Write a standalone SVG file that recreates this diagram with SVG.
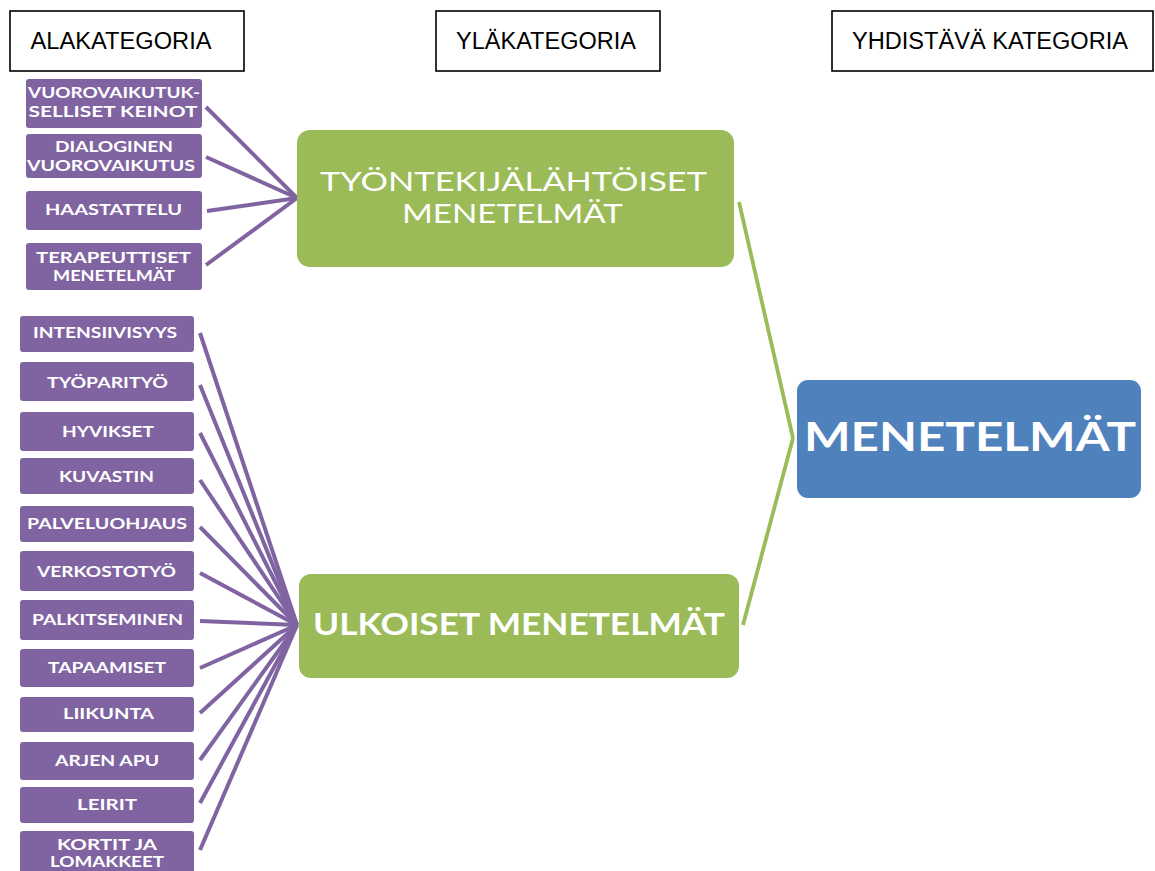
<svg xmlns="http://www.w3.org/2000/svg" width="1155" height="871" viewBox="0 0 1155 871">
<style>
.hdr rect{fill:#fff;stroke:#000;stroke-width:1.6}
.hdr text{font-family:"Liberation Sans",Arial,sans-serif;font-size:23px;fill:#000;text-anchor:middle}
.sub rect{fill:#8064A2}
.sub text{font-family:Lato,"Liberation Sans",sans-serif;font-weight:bold;font-size:15.5px;fill:#fff;text-anchor:middle}
.mid rect{fill:#9BBB59}
.mid text{font-family:Lato,"Liberation Sans",sans-serif;font-size:31px;fill:#fff;text-anchor:middle}
.mid text.two{font-size:26.5px}
.top rect{fill:#4F81BD}
.top text{font-family:Lato,"Liberation Sans",sans-serif;font-weight:bold;font-size:40px;fill:#fff;text-anchor:middle}
.pl{stroke:#8064A2;stroke-width:4;fill:none;stroke-linecap:butt}
.gl{stroke:#9BBB59;stroke-width:3.8;fill:none}
</style>
<rect width="1155" height="871" fill="#fff"/>

<g id="connectors">
  <g class="pl">
    <line x1="206" y1="107" x2="297" y2="198"/>
    <line x1="206" y1="157" x2="297" y2="198"/>
    <line x1="207" y1="211" x2="297" y2="198"/>
    <line x1="206" y1="265" x2="297" y2="198"/>
    <line x1="200" y1="333" x2="297" y2="625"/>
    <line x1="200" y1="385" x2="297" y2="625"/>
    <line x1="200" y1="433" x2="297" y2="625"/>
    <line x1="200" y1="480" x2="297" y2="625"/>
    <line x1="200" y1="527" x2="297" y2="625"/>
    <line x1="200" y1="573" x2="297" y2="625"/>
    <line x1="200" y1="621" x2="297" y2="625"/>
    <line x1="200" y1="668" x2="297" y2="625"/>
    <line x1="200" y1="713" x2="297" y2="625"/>
    <line x1="200" y1="760" x2="297" y2="625"/>
    <line x1="200" y1="803" x2="297" y2="625"/>
    <line x1="200" y1="850" x2="297" y2="625"/>
  </g>
  <g class="gl">
    <line x1="739" y1="202" x2="793" y2="438"/>
    <line x1="793" y1="438" x2="743" y2="625"/>
  </g>
</g>

<g id="hdr-ala" class="hdr"><rect x="10" y="11" width="234" height="60"/><text x="121" y="49" textLength="181" lengthAdjust="spacingAndGlyphs">ALAKATEGORIA</text></g>
<g id="hdr-yla" class="hdr"><rect x="436" y="11" width="224" height="60"/><text x="546" y="49" textLength="180" lengthAdjust="spacingAndGlyphs">YLÄKATEGORIA</text></g>
<g id="hdr-yhd" class="hdr"><rect x="832" y="11" width="321" height="60"/><text x="990" y="49" textLength="276" lengthAdjust="spacingAndGlyphs">YHDISTÄVÄ KATEGORIA</text></g>

<g id="s1" class="sub"><rect x="26" y="79" width="176" height="49" rx="3"/><text x="114" y="98" textLength="172" lengthAdjust="spacingAndGlyphs">VUOROVAIKUTUK-</text><text x="113" y="117" textLength="169" lengthAdjust="spacingAndGlyphs">SELLISET KEINOT</text></g>
<g id="s2" class="sub"><rect x="26" y="134" width="176" height="44" rx="3"/><text x="114" y="152" textLength="118" lengthAdjust="spacingAndGlyphs">DIALOGINEN</text><text x="111" y="171" textLength="168" lengthAdjust="spacingAndGlyphs">VUOROVAIKUTUS</text></g>
<g id="s3" class="sub"><rect x="26" y="191" width="176" height="39" rx="3"/><text x="113.5" y="215" textLength="137" lengthAdjust="spacingAndGlyphs">HAASTATTELU</text></g>
<g id="s4" class="sub"><rect x="26" y="243" width="176" height="47" rx="3"/><text x="113.5" y="263" textLength="155" lengthAdjust="spacingAndGlyphs">TERAPEUTTISET</text><text x="114" y="281" textLength="122" lengthAdjust="spacingAndGlyphs">MENETELMÄT</text></g>

<g id="b1" class="sub"><rect x="20" y="316" width="174" height="36" rx="3"/><text x="105" y="338" textLength="144" lengthAdjust="spacingAndGlyphs">INTENSIIVISYYS</text></g>
<g id="b2" class="sub"><rect x="20" y="362" width="174" height="39" rx="3"/><text x="107.5" y="388" textLength="121" lengthAdjust="spacingAndGlyphs">TYÖPARITYÖ</text></g>
<g id="b3" class="sub"><rect x="20" y="412" width="174" height="39" rx="3"/><text x="108" y="437" textLength="92" lengthAdjust="spacingAndGlyphs">HYVIKSET</text></g>
<g id="b4" class="sub"><rect x="20" y="458" width="174" height="36" rx="3"/><text x="106.5" y="482" textLength="95" lengthAdjust="spacingAndGlyphs">KUVASTIN</text></g>
<g id="b5" class="sub"><rect x="20" y="506" width="174" height="36" rx="3"/><text x="107" y="529" textLength="160" lengthAdjust="spacingAndGlyphs">PALVELUOHJAUS</text></g>
<g id="b6" class="sub"><rect x="20" y="551" width="174" height="40" rx="3"/><text x="106.5" y="577" textLength="139" lengthAdjust="spacingAndGlyphs">VERKOSTOTYÖ</text></g>
<g id="b7" class="sub"><rect x="20" y="600" width="174" height="40" rx="3"/><text x="107.5" y="625" textLength="151" lengthAdjust="spacingAndGlyphs">PALKITSEMINEN</text></g>
<g id="b8" class="sub"><rect x="20" y="649" width="174" height="38" rx="3"/><text x="107" y="673" textLength="118" lengthAdjust="spacingAndGlyphs">TAPAAMISET</text></g>
<g id="b9" class="sub"><rect x="20" y="697" width="174" height="35" rx="3"/><text x="108.5" y="719" textLength="91" lengthAdjust="spacingAndGlyphs">LIIKUNTA</text></g>
<g id="b10" class="sub"><rect x="20" y="742" width="174" height="38" rx="3"/><text x="107" y="766" textLength="104" lengthAdjust="spacingAndGlyphs">ARJEN APU</text></g>
<g id="b11" class="sub"><rect x="20" y="787" width="174" height="36" rx="3"/><text x="107" y="810" textLength="60" lengthAdjust="spacingAndGlyphs">LEIRIT</text></g>
<g id="b12" class="sub"><rect x="20" y="831" width="174" height="46" rx="3"/><text x="107" y="850" textLength="100" lengthAdjust="spacingAndGlyphs">KORTIT JA</text><text x="107" y="867" textLength="114" lengthAdjust="spacingAndGlyphs">LOMAKKEET</text></g>

<g id="m1" class="mid"><rect x="297" y="130" width="437" height="137" rx="13"/><text class="two" x="513.5" y="191" textLength="387" lengthAdjust="spacingAndGlyphs">TYÖNTEKIJÄLÄHTÖISET</text><text class="two" x="512.5" y="223" textLength="221" lengthAdjust="spacingAndGlyphs">MENETELMÄT</text></g>
<g id="m2" class="mid"><rect x="299" y="574" width="440" height="104" rx="12"/><text x="519" y="635" font-weight="bold" textLength="412" lengthAdjust="spacingAndGlyphs">ULKOISET MENETELMÄT</text></g>

<g id="top" class="top"><rect x="797" y="380" width="344" height="118" rx="11"/><text x="970" y="451" textLength="332" lengthAdjust="spacingAndGlyphs">MENETELMÄT</text></g>
</svg>
